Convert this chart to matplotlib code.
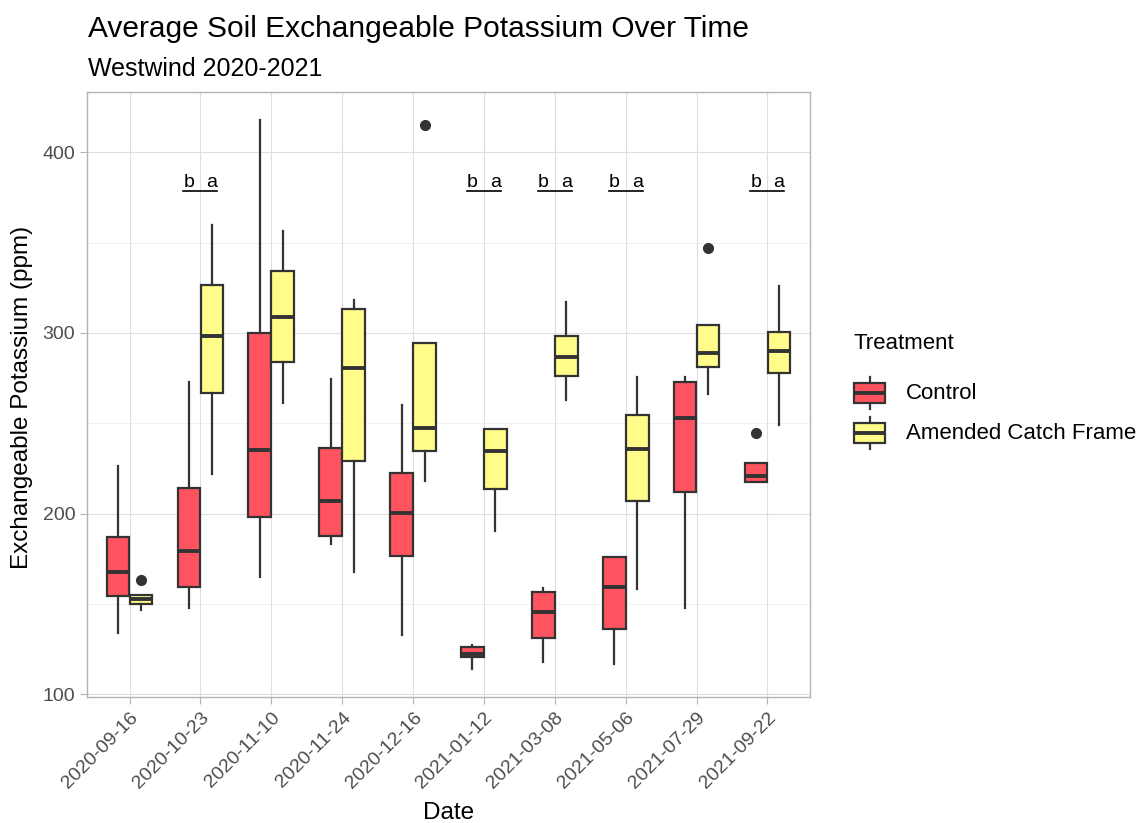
import numpy as np
import matplotlib
matplotlib.use("Agg")
import matplotlib.pyplot as plt
from matplotlib.patches import Rectangle

plt.rcParams['font.family'] = ['Liberation Sans', 'DejaVu Sans']

# --- data ---
dates = ['2020-09-16', '2020-10-23', '2020-11-10', '2020-11-24', '2020-12-16',
         '2021-01-12', '2021-03-08', '2021-05-06', '2021-07-29', '2021-09-22']

ctrl_lo = [134, 148, 165, 183, 133, 114, 118, 117, 148, 217.4]
ctrl_q1 = [154.6, 159.7, 198.4, 187.7, 176.5, 120.5, 131, 136.1, 211.9, 217.4]
ctrl_med = [167.8, 179.6, 235.3, 206.9, 200.6, 122.5, 145.5, 159.2, 253, 220.7]
ctrl_q3 = [187, 214.1, 299.8, 236.4, 222.4, 126.2, 156.6, 175.9, 272.7, 228.3]
ctrl_hi = [226.4, 272.7, 417.9, 274.3, 260.3, 127.3, 159, 175.9, 275.4, 228.3]
ctrl_out = [[], [], [], [], [], [], [], [], [], [244.5]]

amd_lo = [147, 222, 261.1, 167.8, 218.1, 190.7, 262.9, 158.6, 266.2, 248.9]
amd_q1 = [150.3, 266.6, 283.7, 229.4, 234.9, 213.7, 276.2, 207.1, 281.3, 277.8]
amd_med = [153, 298.5, 308.6, 280.4, 247.4, 234.7, 286.5, 235.8, 288.7, 290]
amd_q3 = [154.9, 326.3, 334.4, 313, 294.2, 247.1, 298.3, 254.8, 304.2, 300.3]
amd_hi = [154.9, 359.5, 356.5, 318.4, 294.2, 247.1, 317.3, 275.4, 304.2, 325.7]
amd_out = [[163.4], [], [], [], [414.9], [], [], [], [346.9], []]

# significance letters (control / amended) per date
sig_idx = [1, 5, 6, 7, 9]
sig_ctrl = ['b', 'b', 'b', 'b', 'b']
sig_amd = ['a', 'a', 'a', 'a', 'a']
sig_y = 381

treatments = ['Control', 'Amended Catch Frame']
colors = ['#FF5460', '#FFFC8A']
edge = '#333333'


def make_stats(lo, q1, med, q3, hi, out):
    return [dict(whislo=a, q1=b, med=c, q3=d, whishi=e, fliers=f)
            for a, b, c, d, e, f in zip(lo, q1, med, q3, hi, out)]


fig = plt.figure(figsize=(11.46, 8.23), dpi=100)
W, H = 1146, 823
ax = fig.add_axes([87 / W, 1 - 697 / H, (810 - 87) / W, (697 - 92) / H])

x = np.arange(len(dates))
width = 0.32
offset = 0.1625
groups = [make_stats(ctrl_lo, ctrl_q1, ctrl_med, ctrl_q3, ctrl_hi, ctrl_out),
          make_stats(amd_lo, amd_q1, amd_med, amd_q3, amd_hi, amd_out)]

for k, stats in enumerate(groups):
    pos = x + (-offset if k == 0 else offset)
    ax.bxp(stats, positions=pos, widths=width, patch_artist=True,
           showcaps=False,
           boxprops=dict(facecolor=colors[k], edgecolor=edge, linewidth=1.6),
           medianprops=dict(color=edge, linewidth=2.8, solid_capstyle='butt'),
           whiskerprops=dict(color=edge, linewidth=1.6),
           flierprops=dict(marker='o', markerfacecolor=edge, markeredgecolor=edge,
                           markersize=7),
           zorder=3)

# significance letters with underline
for i, lc, la in zip(sig_idx, sig_ctrl, sig_amd):
    ax.text(i - offset, sig_y, lc, ha='center', va='baseline', fontsize=14, zorder=4)
    ax.text(i + offset, sig_y, la, ha='center', va='baseline', fontsize=14, zorder=4)
    ax.plot([i - 0.24, i + 0.24], [sig_y - 2.5, sig_y - 2.5], color='black',
            linewidth=1.2, zorder=4)

ax.set_xlim(-0.6, len(dates) - 0.4)
ax.set_ylim(98.6, 433.3)
ax.set_xticks(x)
ax.set_xticklabels(dates, rotation=45, ha='right', va='top', rotation_mode='anchor')
ax.set_yticks([100, 200, 300, 400])
ax.set_yticks([150, 250, 350], minor=True)

ax.set_facecolor('white')
ax.grid(True, which='major', color='#DEDEDE', linewidth=0.8, zorder=0)
ax.grid(True, which='minor', axis='y', color='#EBEBEB', linewidth=0.5, zorder=0)
ax.set_axisbelow(True)
for sp in ax.spines.values():
    sp.set_color('#B3B3B3')
    sp.set_linewidth(1.0)
ax.tick_params(axis='both', which='major', colors='#B3B3B3', labelcolor='#4D4D4D',
               labelsize=14, length=5, width=0.8)
ax.tick_params(axis='y', which='minor', length=0)

# titles
fig.text(88 / W, 1 - 37 / H, 'Average Soil Exchangeable Potassium Over Time',
         fontsize=21.5, ha='left', va='baseline')
fig.text(88 / W, 1 - 75.5 / H, 'Westwind 2020-2021',
         fontsize=18, ha='left', va='baseline')
fig.text(22 / W, 1 - 397 / H, 'Exchangeable Potassium (ppm)', fontsize=17.5,
         rotation=90, ha='center', va='center')
fig.text(448.5 / W, 1 - 813 / H, 'Date', fontsize=17.5, ha='center', va='center')

# legend drawn by hand in pixel coordinates
lax = fig.add_axes([0, 0, 1, 1], facecolor='none')
lax.set_xlim(0, W)
lax.set_ylim(H, 0)
lax.axis('off')
lax.text(853, 343, 'Treatment', fontsize=16, ha='left', va='center')
for k, (name, yc) in enumerate(zip(treatments, [393, 433])):
    lax.plot([869.5, 869.5], [yc - 16, yc + 16], color=edge, linewidth=1.6)
    lax.add_patch(Rectangle((854, yc - 10), 31, 20, facecolor=colors[k],
                            edgecolor=edge, linewidth=1.6, zorder=3))
    lax.plot([854, 885], [yc, yc], color=edge, linewidth=2.8, zorder=4,
             solid_capstyle='butt')
    lax.text(906, yc, name, fontsize=16, ha='left', va='center')

fig.savefig('out.png', dpi=100, facecolor='white')
